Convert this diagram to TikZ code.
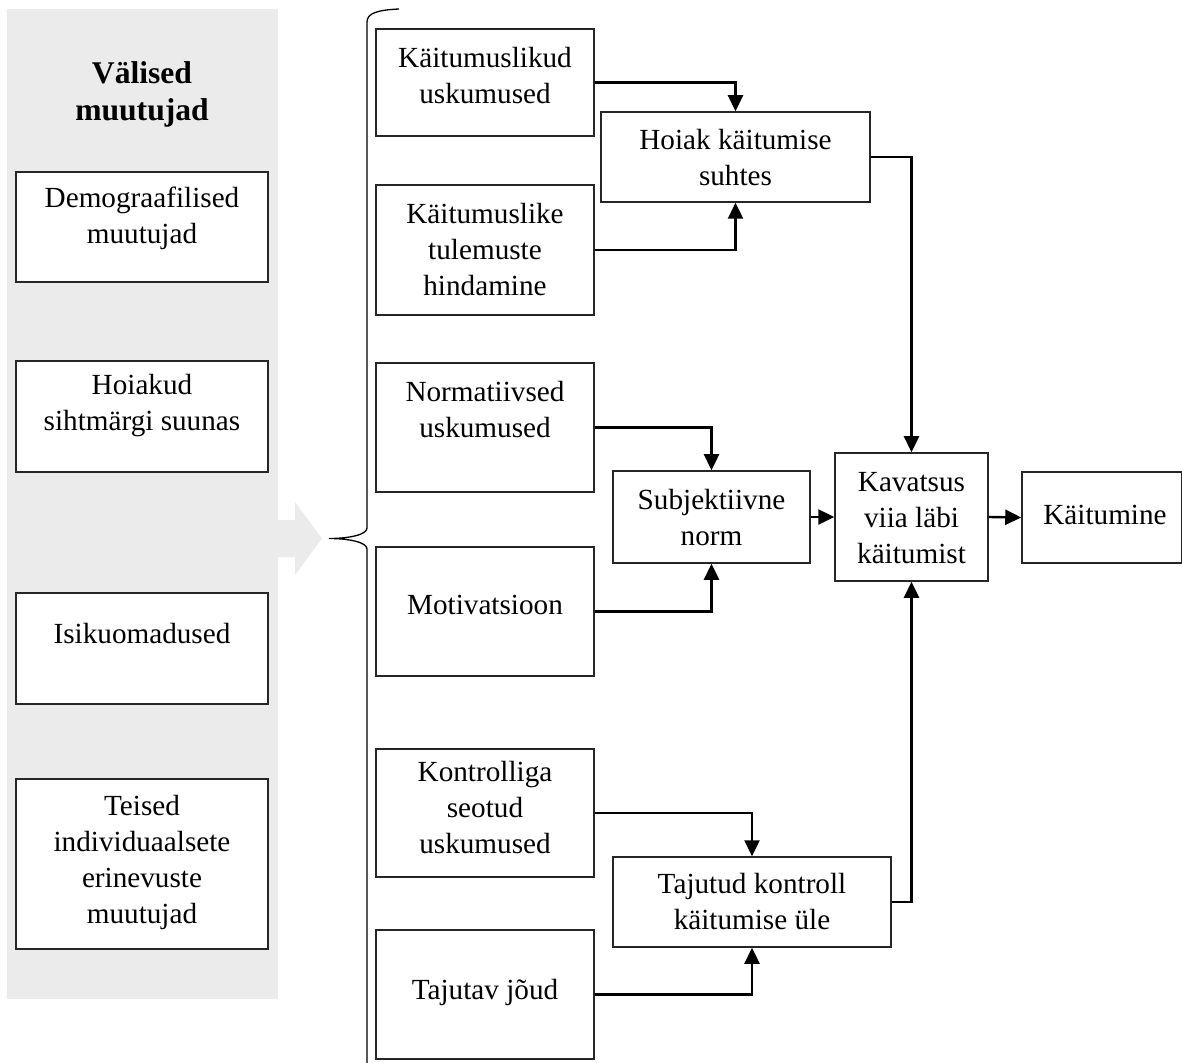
\documentclass[tikz,border=0pt]{standalone}
\usepackage{fontspec}
\setmainfont{Liberation Serif}
\usetikzlibrary{arrows.meta,fit}
\definecolor{panelgrey}{RGB}{235,235,235}
\begin{document}
\begin{tikzpicture}[x=0.5pt,y=-0.5pt,
  box/.style={draw=black!85, line width=0.75pt, fill=white, inner sep=0pt},
  txt/.style={align=center, font=\fontsize{14.6pt}{18pt}\selectfont, inner sep=0pt},
  ttl/.style={align=center, font=\fontsize{15.8pt}{18.5pt}\selectfont\bfseries, inner sep=0pt},
  arr/.style={line width=1.2pt, -{Triangle[length=8pt,width=7.5pt]}},
]
\useasboundingbox (0,0) rectangle (1182,1063);

% grey panel and grey arrow
\fill[panelgrey] (7,9) rectangle (278,999);
\fill[panelgrey] (277,520) -- (295,520) -- (295,502) -- (322,538.5) -- (295,575) -- (295,557) -- (277,557) -- cycle;

% left column
\node[ttl] (title) at (142,94) {Välised\\muutujad};
\node[box, fit={(16,172) (268,282)}] (demoB) {};
\node[txt] (demo) at (142,218) {Demograafilised\\muutujad};
\node[box, fit={(16,361) (268,472)}] (hoiakudB) {};
\node[txt] (hoiakud) at (142,406) {Hoiakud\\sihtmärgi suunas};
\node[box, fit={(16,593) (268,704)}] (isikB) {};
\node[txt] (isik) at (142,634) {Isikuomadused};
\node[box, fit={(16,779) (268,949)}] (teisedB) {};
\node[txt] (teised) at (142,862) {Teised\\individuaalsete\\erinevuste\\muutujad};

% brace
\draw[line width=0.65pt, black]
  (399,9) .. controls (378,10) and (367,13) .. (367,22)
  -- (367,528) .. controls (367,535) and (348,538.5) .. (329,538.5)
  .. controls (348,538.5) and (367,542) .. (367,549)
  -- (367,1075);

% middle column
\node[box, fit={(376,29) (594,136)}] (kuB) {};
\node[txt] (ku) at (485,76) {Käitumuslikud\\uskumused};
\node[box, fit={(376,185) (594,315)}] (ktB) {};
\node[txt] (kt) at (485,250) {Käitumuslike\\tulemuste\\hindamine};
\node[box, fit={(376,363) (594,492)}] (nuB) {};
\node[txt] (nu) at (485,410) {Normatiivsed\\uskumused};
\node[box, fit={(376,547) (594,676)}] (motB) {};
\node[txt] (mot) at (485,605) {Motivatsioon};
\node[box, fit={(376,749) (594,877)}] (ksB) {};
\node[txt] (ks) at (485,808) {Kontrolliga\\seotud\\uskumused};
\node[box, fit={(376,930) (594,1059)}] (tjB) {};
\node[txt] (tj) at (485,992) {Tajutav jõud};

% central boxes
\node[box, fit={(601,112) (870,202)}] (hoiakB) {};
\node[txt] (hoiak) at (735.5,158) {Hoiak käitumise\\suhtes};
\node[box, fit={(613,471) (810,563)}] (subjB) {};
\node[txt] (subj) at (711.5,518) {Subjektiivne\\norm};
\node[box, fit={(613,857) (891,947)}] (tajB) {};
\node[txt] (taj) at (752,902) {Tajutud kontroll\\käitumise üle};
\node[box, fit={(835,453) (988,581)}] (kavB) {};
\node[txt] (kav) at (911.5,518) {Kavatsus\\viia läbi\\käitumist};
\node[box, fit={(1022,472) (1181.5,563)}] (kaitB) {};
\node[txt] (kait) at (1105,515) {Käitumine};

% connectors
\draw[arr] (kuB.east) -| (hoiakB.north);
\draw[arr] (ktB.east) -| (hoiakB.south);
\draw[arr] (nuB.east) -| (subjB.north);
\draw[arr] (motB.east) -| (subjB.south);
\draw[arr] (ksB.east) -| (tajB.north);
\draw[arr] (tjB.east) -| (tajB.south);
\draw[arr] (hoiakB.east) -| (kavB.north);
\draw[arr] (tajB.east) -| (kavB.south);
\draw[arr] (subjB.east) -- (kavB.west);
\draw[arr] (kavB.east) -- (kaitB.west);
\end{tikzpicture}
\end{document}
